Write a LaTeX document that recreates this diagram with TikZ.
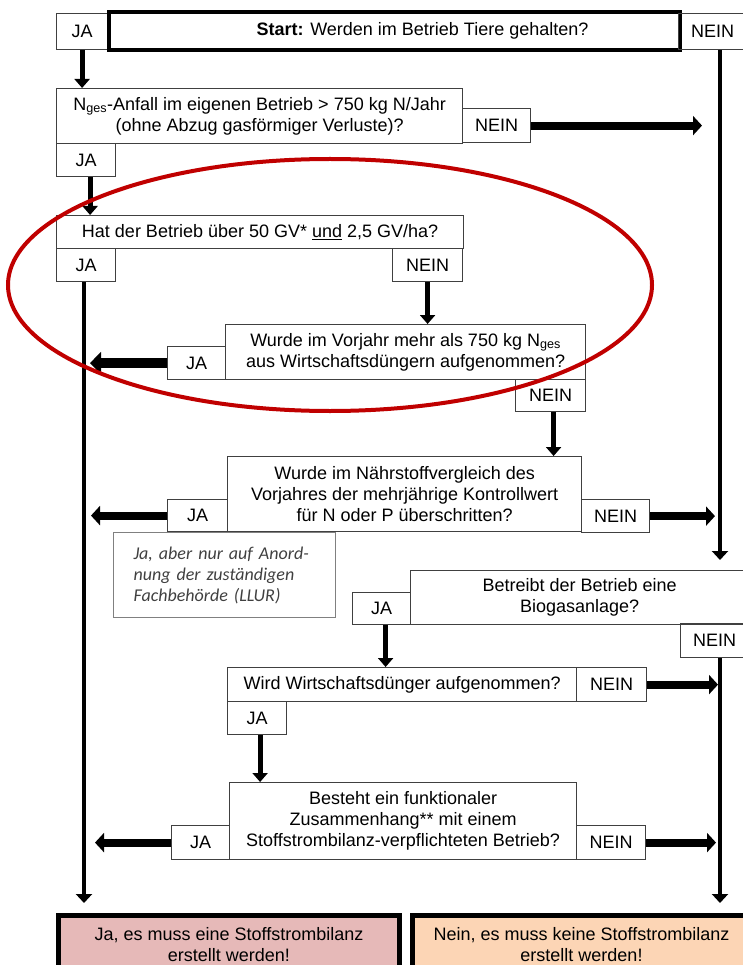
\documentclass[tikz,border=0pt]{standalone}
\usepackage{fontspec}
\setmainfont{Liberation Sans}
\newfontfamily\notefont{Carlito}
\usetikzlibrary{arrows.meta}
\usetikzlibrary{positioning}
\definecolor{yespink}{HTML}{E6B9B8}
\definecolor{nopeach}{HTML}{FCD5B5}
\definecolor{markred}{HTML}{C00000}

\begin{document}
\begin{tikzpicture}[x=1pt,y=-1pt,
  box/.style={draw=black!75,line width=1.2pt,inner sep=0pt,align=center,anchor=north west,font=\fontsize{18}{21}\selectfont},
  startbox/.style={box,draw=black,line width=4pt},
  resultbox/.style={box,draw=black,line width=5pt},
  notebox/.style={draw=black!50,line width=1pt,anchor=north west,align=left,inner xsep=20pt,text width=182pt,minimum height=85pt,text=black!75,font=\notefont\itshape\fontsize{18}{21}\selectfont},
  down/.style={line width=5pt,-{Triangle[length=9pt,width=15pt]}},
  vline/.style={line width=4.5pt,-{Triangle[length=9pt,width=16pt]},shorten >=10pt},
  side/.style={line width=8pt,-{Triangle[length=9pt,width=19pt]}},
  bigside/.style={line width=10pt,-{Triangle[length=11pt,width=22pt]}}]
\useasboundingbox (0,0) rectangle (743,965);
\coordinate (lline) at (84,0);
\coordinate (rline) at (720,0);

\node[box,minimum width=51pt,minimum height=36pt] (startja) at (56,13) {JA};
\node[startbox,minimum width=571pt,minimum height=38pt] (start) at (107,10) {\hspace*{56pt}\textbf{Start:} Werden im Betrieb Tiere gehalten?};
\node[box,minimum width=68pt,minimum height=36pt] (startnein) at (678,13) {NEIN};

\node[box,minimum width=406pt,minimum height=55pt] (nges) at (56,88) {N\textsubscript{ges}-Anfall im eigenen Betrieb > 750 kg N/Jahr\\(ohne Abzug gasförmiger Verluste)?};
\node[box,minimum width=68pt,minimum height=34pt] (ngesnein) at (462,108) {NEIN};
\node[box,minimum width=59pt,minimum height=33pt] (ngesja) at (56,143) {JA};

\node[box,minimum width=407pt,minimum height=33pt] (gv) at (56,215) {Hat der Betrieb über 50 GV* \underline{und} 2,5 GV/ha?};
\node[box,minimum width=59pt,minimum height=33pt] (gvja) at (56,248) {JA};
\node[box,minimum width=70pt,minimum height=33pt] (gvnein) at (392,248) {NEIN};

\node[box,minimum width=360pt,minimum height=55pt] (vorjahr) at (225,324) {Wurde im Vorjahr mehr als 750 kg N\textsubscript{ges}\\aus Wirtschaftsdüngern aufgenommen?};
\node[box,minimum width=58pt,minimum height=33pt] (vorjahrja) at (167,346) {JA};
\node[box,minimum width=70pt,minimum height=32pt] (vorjahrnein) at (515,379) {NEIN};

\node[box,minimum width=354pt,minimum height=75pt] (kontroll) at (227,456) {Wurde im Nährstoffvergleich des\\Vorjahres der mehrjährige Kontrollwert\\für N oder P überschritten?};
\node[box,minimum width=60pt,minimum height=32pt] (kontrollja) at (167,499) {JA};
\node[box,minimum width=68pt,minimum height=33pt] (kontrollnein) at (581,499) {NEIN};
\node[notebox] (note) at (113,532) {Ja, aber nur auf Anord-\\nung der zuständigen\\Fachbehörde (LLUR)};

\node[box,minimum width=338pt,minimum height=54pt] (biogas) at (410,570) {Betreibt der Betrieb eine\\Biogasanlage?};
\node[box,minimum width=58pt,minimum height=32pt] (biogasja) at (352,592) {JA};
\node[box,minimum width=68pt,minimum height=34pt] (biogasnein) at (680,623) {NEIN};

\node[box,minimum width=349pt,minimum height=34pt] (wird) at (227,667) {Wird Wirtschaftsdünger aufgenommen?};
\node[box,minimum width=70pt,minimum height=34pt] (wirdnein) at (576,667) {NEIN};
\node[box,minimum width=59pt,minimum height=33pt] (wirdja) at (227,701) {JA};

\node[box,minimum width=347pt,minimum height=77pt] (besteht) at (229,782) {Besteht ein funktionaler\\Zusammenhang** mit einem\\Stoffstrombilanz-verpflichteten Betrieb?};
\node[box,minimum width=58pt,minimum height=34pt] (bestehtja) at (171,825) {JA};
\node[box,minimum width=69pt,minimum height=34pt] (bestehtnein) at (576,825) {NEIN};

\node[resultbox,fill=yespink,minimum width=341pt,minimum height=58pt] (resja) at (56,913) {Ja, es muss eine Stoffstrombilanz\\erstellt werden!};
\node[resultbox,fill=nopeach,minimum width=338pt,minimum height=58pt] (resnein) at (410,913) {Nein, es muss keine Stoffstrombilanz\\erstellt werden!};

\draw[down] (startja.south) -- (startja.south |- nges.north);
\draw[side,shorten >=18pt] (ngesnein.east) -- (ngesnein.east -| rline);
\draw[down] ([xshift=4pt]ngesja.south) -- ([xshift=4pt]ngesja.south |- gv.north);
\draw[vline] (gvja.south -| lline) -- (resja.north -| lline);
\draw[down] (gvnein.south) -- (gvnein.south |- vorjahr.north);
\draw[bigside,shorten >=6pt] (vorjahrja.west) -- (vorjahrja.west -| lline);
\draw[down] ([xshift=3pt]vorjahrnein.south) -- ([xshift=3pt]vorjahrnein.south |- kontroll.north);
\draw[side,shorten >=7pt] (kontrollja.west) -- (kontrollja.west -| lline);
\draw[side,shorten >=5pt] (kontrollnein.east) -- (kontrollnein.east -| rline);
\draw[vline] (startnein.south -| rline) -- (biogas.north -| rline);
\draw[down] ([xshift=4pt]biogasja.south) -- ([xshift=4pt]biogasja.south |- wird.north);
\draw[vline] (biogasnein.south -| rline) -- (resnein.north -| rline);
\draw[side,shorten >=2pt] (wirdnein.east) -- (wirdnein.east -| rline);
\draw[down] ([xshift=3pt]wirdja.south) -- ([xshift=3pt]wirdja.south |- besteht.north);
\draw[side,shorten >=11pt] (bestehtja.west) -- (bestehtja.west -| lline);
\draw[side,shorten >=4pt] (bestehtnein.east) -- (bestehtnein.east -| rline);

\draw[markred,line width=4pt] (330,285) ellipse [x radius=322, y radius=126];
\end{tikzpicture}
\end{document}
